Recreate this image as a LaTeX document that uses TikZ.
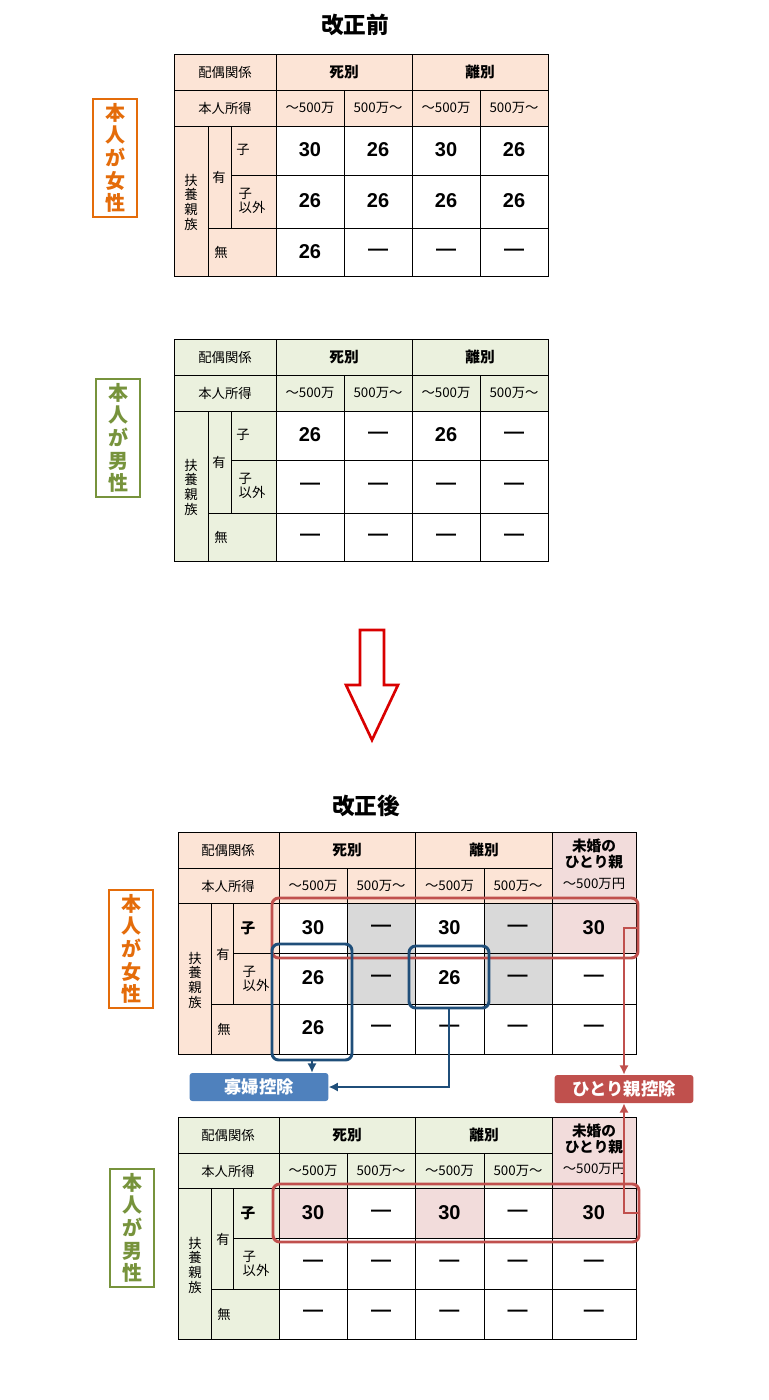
\documentclass[tikz,border=0pt]{standalone}
\usepackage{fontspec}
\setmainfont{Noto Sans CJK JP}
\newfontfamily\numf{Liberation Sans}
\usetikzlibrary{arrows.meta}
\definecolor{peach}{HTML}{FCE4D6}
\definecolor{sage}{HTML}{EBF1DE}
\definecolor{rosy}{HTML}{F2DCDB}
\definecolor{ashy}{HTML}{D9D9D9}
\definecolor{orng}{HTML}{E46C0A}
\definecolor{olive}{HTML}{77933C}
\definecolor{navy}{HTML}{1F4E79}
\definecolor{bluelbl}{HTML}{4F81BD}
\definecolor{redln}{HTML}{C0504D}

\tikzset{
  grid/.style={draw=black,line width=0.6pt},
  hd/.style={font=\fontsize{10}{11}\selectfont},
  hdb/.style={font=\fontsize{11}{12}\selectfont\bfseries},
  num/.style={font=\fontsize{15}{16}\selectfont\numf\bfseries},
  side/.style={draw,line width=1.5pt,align=center,minimum width=33pt,inner sep=3pt,
    font=\fontsize{15}{17}\selectfont\bfseries},
  ttl/.style={font=\fontsize{17}{18}\selectfont\bfseries},
  hilite/.style={line width=2.2pt,rounded corners=5pt},
  deduct/.style={fill,text=white,rounded corners=2pt,minimum width=104pt,minimum height=21pt,
    font=\fontsize{13}{14}\selectfont\bfseries},
  link/.style={line width=2pt,-{Latex[length=7pt,width=7pt]}},
}

% old table: top, fill, prefix, 12 values
\newcommand\oldtab[4]{%
  \fill[#2] (174,#1) rectangle (548,#1+72);
  \fill[#2] (174,#1+72) rectangle (276,#1+222);
  \draw[grid] (174,#1) rectangle (548,#1+222);
  \draw[grid] (174,#1+36) -- (548,#1+36) (174,#1+72) -- (548,#1+72)
    (231,#1+121) -- (548,#1+121) (208,#1+174) -- (548,#1+174);
  \draw[grid] (276,#1) -- (276,#1+222) (412,#1) -- (412,#1+222)
    (344,#1+36) -- (344,#1+222) (480,#1+36) -- (480,#1+222)
    (208,#1+72) -- (208,#1+222) (231,#1+72) -- (231,#1+174);
  \node[hd] (#3a) at (225,#1+18) {配偶関係};
  \node[hdb] (#3b) at (344,#1+18) {死別};
  \node[hdb] (#3c) at (480,#1+18) {離別};
  \node[hd] (#3d) at (225,#1+54) {本人所得};
  \foreach \x/\t [count=\i] in {310/～500万,378/500万～,446/～500万,514/500万～}
    \node[hd,inner sep=0pt] (#3r\i) at (\x,#1+54) {\t};
  \node[hd,align=center] (#3e) at (191,#1+148) {扶\\養\\親\\族};
  \node[hd] (#3f) at (219,#1+123) {有};
  \node[hd] (#3g) at (243,#1+96) {子};
  \node[hd,align=left] (#3h) at (252,#1+147) {子\\以外};
  \node[hd] (#3k) at (221,#1+198) {無};
  \foreach \v [count=\i from 0] in {#4}{
    \pgfmathtruncatemacro\rr{int(\i/4)}
    \pgfmathtruncatemacro\cc{mod(\i,4)}
    \pgfmathsetmacro\yy{#1+96+(\rr==1)*51+(\rr==2)*102}
    \node[num] (#3n\i) at (310+68*\cc,\yy) {\v};
  }
}

% new table: top, fill, prefix, 15 values
\newcommand\newtab[4]{%
  \fill[#2] (178,#1) rectangle (552,#1+71);
  \fill[#2] (178,#1+71) rectangle (279,#1+222);
  \fill[rosy] (552,#1) rectangle (636,#1+71);
  \draw[grid] (178,#1) rectangle (636,#1+222);
  \draw[grid] (178,#1+36) -- (552,#1+36) (178,#1+71) -- (636,#1+71)
    (233,#1+121) -- (636,#1+121) (211,#1+172) -- (636,#1+172);
  \draw[grid] (279,#1) -- (279,#1+222) (415,#1) -- (415,#1+222) (552,#1) -- (552,#1+222)
    (347,#1+36) -- (347,#1+222) (484,#1+36) -- (484,#1+222)
    (211,#1+71) -- (211,#1+222) (233,#1+71) -- (233,#1+172);
  \node[hd] (#3a) at (228,#1+18) {配偶関係};
  \node[hdb] (#3b) at (347,#1+18) {死別};
  \node[hdb] (#3c) at (484,#1+18) {離別};
  \node[hdb,align=center,inner sep=0pt] (#3m) at (594,#1+22) {未婚の\\ひとり親};
  \node[hd,inner sep=0pt] (#3y) at (594,#1+52) {～500万円};
  \node[hd] (#3d) at (228,#1+54) {本人所得};
  \foreach \x/\t [count=\i] in {313/～500万,381/500万～,449.5/～500万,518/500万～}
    \node[hd,inner sep=0pt] (#3r\i) at (\x,#1+54) {\t};
  \node[hd,align=center] (#3e) at (195,#1+148) {扶\\養\\親\\族};
  \node[hd] (#3f) at (223,#1+122) {有};
  \node[hdb] (#3g) at (248,#1+96) {子};
  \node[hd,align=left] (#3h) at (256,#1+147) {子\\以外};
  \node[hd] (#3k) at (224,#1+197) {無};
  \foreach \v [count=\i from 0] in {#4}{
    \pgfmathtruncatemacro\rr{int(\i/5)}
    \pgfmathtruncatemacro\cc{mod(\i,5)}
    \pgfmathsetmacro\xx{313+68.2*\cc+(\cc==4)*8}
    \pgfmathsetmacro\yy{#1+96+(\rr==1)*50+(\rr==2)*100}
    \node[num] (#3n\i) at (\xx,\yy) {\v};
  }
}

\begin{document}
\begin{tikzpicture}[x=0.75pt,y=-0.75pt]
  \useasboundingbox (0,0) rectangle (768,1400);

  % before
  \node[ttl] (before) at (355,25) {改正前};
  \oldtab{54}{peach}{fa}{30,26,30,26,26,26,26,26,26,—,—,—}
  \node[side,draw=orng,text=orng] (fbox) at (115,158) {本\\人\\が\\女\\性};
  \oldtab{339}{sage}{ma}{26,—,26,—,—,—,—,—,—,—,—,—}
  \node[side,draw=olive,text=olive] (mbox) at (118,438) {本\\人\\が\\男\\性};

  % arrow
  \draw[red!85!black,line width=2pt,fill=white] (360,630) -- (384,630) -- (384,685) -- (398,685)
    -- (372,740) -- (346,685) -- (360,685) -- cycle;

  % after
  \node[ttl] (after) at (366,806) {改正後};
  \fill[ashy] (347,903) rectangle (415,1004) (484,903) rectangle (552,1004);
  \fill[rosy] (552,903) rectangle (636,953);
  \fill[rosy] (279,1188) rectangle (347,1238) (415,1188) rectangle (484,1238)
    (552,1188) rectangle (636,1238);
  \newtab{832}{peach}{fb}{30,—,30,—,30,26,—,26,—,—,26,—,—,—,—}
  \node[side,draw=orng,text=orng] (fbox2) at (131,949) {本\\人\\が\\女\\性};
  \newtab{1117}{sage}{mb}{30,—,30,—,30,—,—,—,—,—,—,—,—,—,—}
  \node[side,draw=olive,text=olive] (mbox2) at (132,1228) {本\\人\\が\\男\\性};

  % highlights
  \node[draw=redln,hilite,minimum width=274.5pt,minimum height=45pt] (redtop) at (455,928) {};
  \node[draw=redln,hilite,minimum width=274.5pt,minimum height=43.5pt] (redbot) at (456,1213) {};
  \node[draw=navy,hilite,minimum width=60pt,minimum height=87pt] (blueA) at (312,1002) {};
  \node[draw=navy,hilite,minimum width=60pt,minimum height=46.5pt] (blueB) at (449,977) {};

  \node[deduct,fill=bluelbl] (kafu) at (259,1087) {寡婦控除};
  \node[deduct,fill=redln] (hitori) at (624,1089) {ひとり親控除};

  \draw[link,navy] (blueA.south) -- (blueA.south |- kafu.north);
  \draw[link,navy] (blueB.south) |- (kafu.east);
  \draw[link,redln] (redtop.east) -| (hitori.north);
  \draw[link,redln] (redbot.east) -| (hitori.south);
\end{tikzpicture}
\end{document}
